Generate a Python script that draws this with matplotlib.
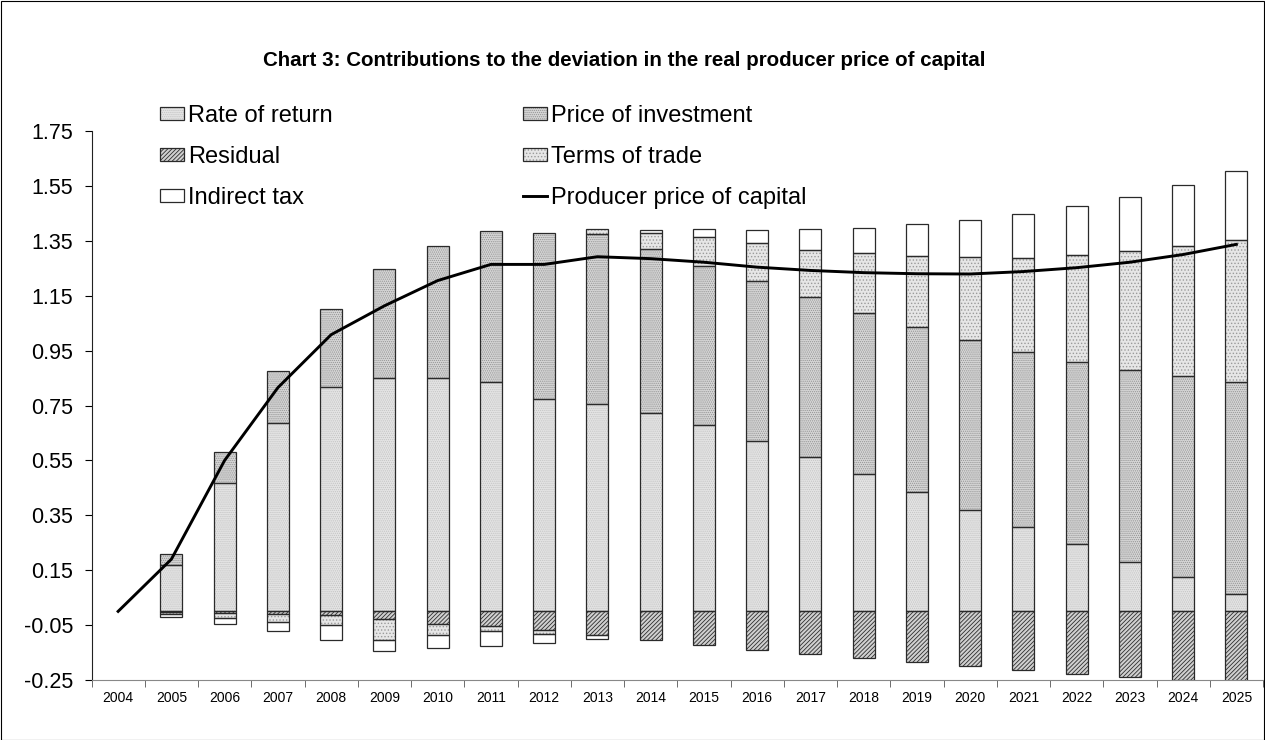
import numpy as np
import matplotlib
matplotlib.use("Agg")
import matplotlib.pyplot as plt
from matplotlib.patches import Patch, Rectangle

plt.rcParams['font.family'] = ['Liberation Sans', 'DejaVu Sans']
plt.rcParams['hatch.linewidth'] = 0.6

# data (2004 has no bar)
years = [str(y) for y in range(2004, 2026)]
rate_of_return = [0, 0.170, 0.469, 0.687, 0.818, 0.852, 0.852, 0.835, 0.774, 0.755, 0.724,
                  0.679, 0.622, 0.561, 0.500, 0.435, 0.369, 0.309, 0.244, 0.179, 0.126, 0.064]
price_of_investment = [0, 0.040, 0.110, 0.187, 0.284, 0.397, 0.480, 0.550, 0.603, 0.619, 0.595,
                       0.581, 0.581, 0.583, 0.587, 0.601, 0.620, 0.636, 0.666, 0.700, 0.732, 0.772]
residual = [0, -0.004, -0.005, -0.010, -0.013, -0.028, -0.045, -0.053, -0.068, -0.086, -0.105,
            -0.123, -0.141, -0.154, -0.170, -0.184, -0.199, -0.214, -0.227, -0.239, -0.250, -0.262]
terms_of_trade = [0, -0.007, -0.020, -0.029, -0.036, -0.077, -0.042, -0.018, -0.015, 0.019, 0.061,
                  0.103, 0.139, 0.172, 0.220, 0.257, 0.301, 0.343, 0.387, 0.433, 0.474, 0.518]
indirect_tax = [0, -0.009, -0.020, -0.032, -0.056, -0.039, -0.048, -0.056, -0.031, -0.016, 0.009,
                0.030, 0.047, 0.077, 0.090, 0.118, 0.135, 0.159, 0.179, 0.198, 0.223, 0.249]
producer_price = [0.00, 0.19, 0.55, 0.815, 1.008, 1.113, 1.205, 1.264, 1.264, 1.292, 1.285,
                  1.272, 1.254, 1.242, 1.234, 1.230, 1.229, 1.238, 1.252, 1.272, 1.300, 1.337]

# name, values, face colour, hatch, hatch colour
series = [
    ("Rate of return", rate_of_return, "#e4e4e4", "........", "#c4c4c4"),
    ("Price of investment", price_of_investment, "#d6d6d6", "........", "#949494"),
    ("Residual", residual, "#d0d0d0", "////////", "#2e2e2e"),
    ("Terms of trade", terms_of_trade, "#e6e6e6", ".....", "#9a9a9a"),
    ("Indirect tax", indirect_tax, "white", None, "white"),
]

fig = plt.figure(figsize=(12.65, 7.4), dpi=100)
ax = fig.add_axes([91.5 / 1265, 1 - 680 / 740, 1171.5 / 1265, 549 / 740])

x = np.arange(len(years))
width = 0.41
pos = np.zeros(len(years))
neg = np.zeros(len(years))
handles = {}
for name, vals, fc, hatch, hc in series:
    v = np.array(vals, dtype=float)
    bottom = np.where(v >= 0, pos, neg)
    m = v != 0
    # fill + hatch, then a separate dark outline on top
    ax.bar(x[m], v[m], width, bottom=bottom[m], color=fc, hatch=hatch, edgecolor=hc,
           linewidth=0, zorder=2)
    ax.bar(x[m], v[m], width, bottom=bottom[m], fill=False, edgecolor="#2a2a2a",
           linewidth=0.9, zorder=3)
    pos = np.where(v >= 0, pos + v, pos)
    neg = np.where(v < 0, neg + v, neg)
    handles[name] = (Patch(facecolor=fc, hatch=hatch, edgecolor=hc, linewidth=0),
                     Patch(fill=False, edgecolor="#2a2a2a", linewidth=0.9))

line, = ax.plot(x, producer_price, color="black", linewidth=2.1, zorder=4)
handles["Producer price of capital"] = line

ax.set_xlim(-0.5, len(years) - 0.5)
ax.set_ylim(-0.25, 1.75)
ax.set_yticks(np.arange(-0.25, 1.76, 0.2))
ax.yaxis.set_major_formatter(plt.FuncFormatter(lambda v, p: f"{v:.2f}"))
ax.tick_params(axis="y", labelsize=15.5, length=5, pad=8, direction="out", color="black")

# category labels at the centres, tick marks between categories
ax.set_xticks(x)
ax.set_xticklabels(years, fontsize=10)
ax.tick_params(axis="x", which="major", length=0, pad=8)
ax.set_xticks(np.arange(-0.5, len(years)), minor=True)
ax.tick_params(axis="x", which="minor", length=5, direction="out", color="#555555")

for s in ["top", "right"]:
    ax.spines[s].set_visible(False)
ax.spines["bottom"].set_color("#888888")
ax.spines["left"].set_color("#222222")

order = ["Rate of return", "Residual", "Indirect tax",
         "Price of investment", "Terms of trade", "Producer price of capital"]
fig.legend([handles[k] for k in order], order, ncol=2, loc="upper left",
           bbox_to_anchor=(160 / 1265, 1 - 105 / 740), frameon=False, fontsize=17,
           handlelength=1.0, handleheight=0.5, handletextpad=0.2, labelspacing=0.8,
           columnspacing=8.05, borderaxespad=0, borderpad=0)

fig.text(624 / 1265, 1 - 60 / 740,
         "Chart 3: Contributions to the deviation in the real producer price of capital",
         ha="center", va="center", fontsize=14.8, fontweight="bold")

fig.patches.append(Rectangle((0.5 / 1265, 0.5 / 740), 1263.5 / 1265, 738.5 / 740,
                             transform=fig.transFigure, fill=False, edgecolor="black",
                             linewidth=0.8))

fig.savefig("out.png", dpi=100)
plt.close(fig)
